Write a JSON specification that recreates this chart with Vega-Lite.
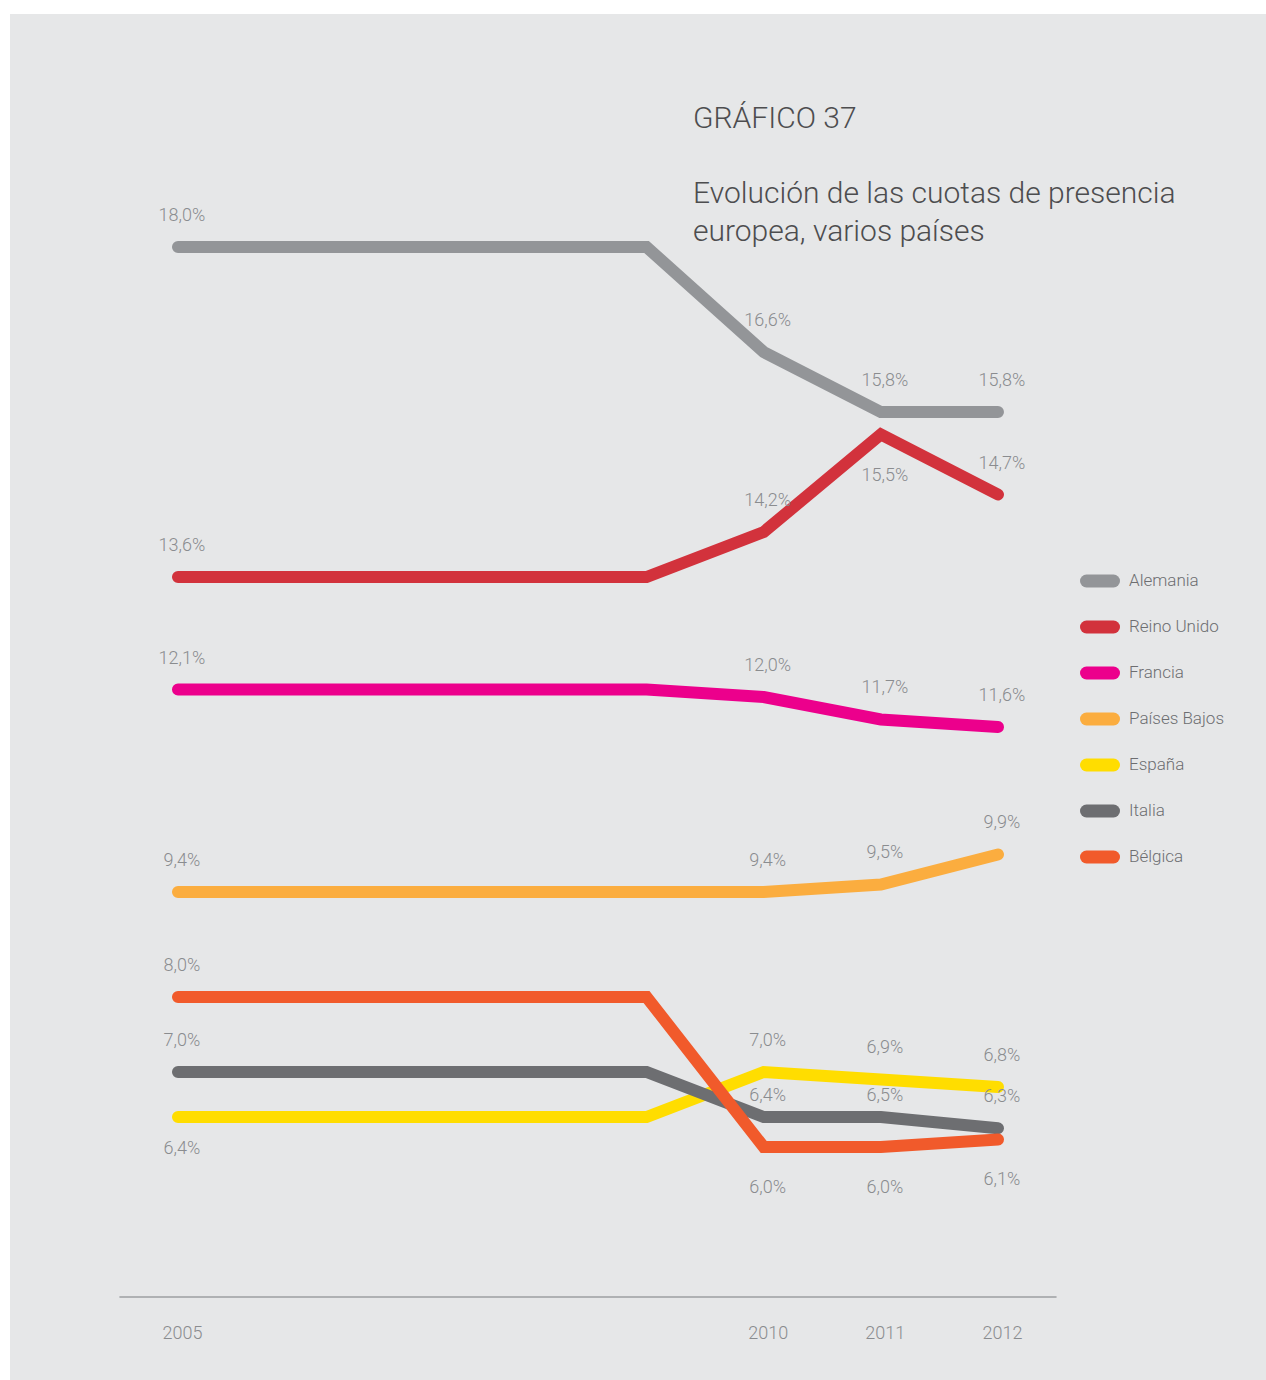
{
  "$schema": "https://vega.github.io/schema/vega-lite/v6.json",
  "autosize": "none",
  "padding": {"left": 10, "top": 14, "right": 0, "bottom": 0},
  "width": 1256,
  "height": 1366,
  "background": "#ffffff",
  "title": {
    "text": "GRÁFICO 37",
    "subtitle": ["Evolución de las cuotas de presencia", "europea, varios países"],
    "anchor": "start",
    "frame": "group",
    "orient": "top",
    "dx": 683,
    "dy": 237,
    "font": "Roboto",
    "fontSize": 30,
    "fontWeight": 300,
    "color": "#4d4d4f",
    "subtitleFont": "Roboto",
    "subtitleFontSize": 30,
    "subtitleFontWeight": 300,
    "subtitleColor": "#4d4d4f",
    "subtitleLineHeight": 38,
    "subtitlePadding": 45
  },
  "data": {
    "values": [
      {"country": "Alemania", "year": 2005, "value": 18.0, "label": "18,0%"},
      {"country": "Alemania", "year": 2006, "value": 18.0, "label": ""},
      {"country": "Alemania", "year": 2007, "value": 18.0, "label": ""},
      {"country": "Alemania", "year": 2008, "value": 18.0, "label": ""},
      {"country": "Alemania", "year": 2009, "value": 18.0, "label": ""},
      {"country": "Alemania", "year": 2010, "value": 16.6, "label": "16,6%"},
      {"country": "Alemania", "year": 2011, "value": 15.8, "label": "15,8%"},
      {"country": "Alemania", "year": 2012, "value": 15.8, "label": "15,8%"},
      {"country": "Reino Unido", "year": 2005, "value": 13.6, "label": "13,6%"},
      {"country": "Reino Unido", "year": 2006, "value": 13.6, "label": ""},
      {"country": "Reino Unido", "year": 2007, "value": 13.6, "label": ""},
      {"country": "Reino Unido", "year": 2008, "value": 13.6, "label": ""},
      {"country": "Reino Unido", "year": 2009, "value": 13.6, "label": ""},
      {"country": "Reino Unido", "year": 2010, "value": 14.2, "label": "14,2%"},
      {"country": "Reino Unido", "year": 2011, "value": 15.5, "label": "15,5%"},
      {"country": "Reino Unido", "year": 2012, "value": 14.7, "label": "14,7%"},
      {"country": "Francia", "year": 2005, "value": 12.1, "label": "12,1%"},
      {"country": "Francia", "year": 2006, "value": 12.1, "label": ""},
      {"country": "Francia", "year": 2007, "value": 12.1, "label": ""},
      {"country": "Francia", "year": 2008, "value": 12.1, "label": ""},
      {"country": "Francia", "year": 2009, "value": 12.1, "label": ""},
      {"country": "Francia", "year": 2010, "value": 12.0, "label": "12,0%"},
      {"country": "Francia", "year": 2011, "value": 11.7, "label": "11,7%"},
      {"country": "Francia", "year": 2012, "value": 11.6, "label": "11,6%"},
      {"country": "Países Bajos", "year": 2005, "value": 9.4, "label": "9,4%"},
      {"country": "Países Bajos", "year": 2006, "value": 9.4, "label": ""},
      {"country": "Países Bajos", "year": 2007, "value": 9.4, "label": ""},
      {"country": "Países Bajos", "year": 2008, "value": 9.4, "label": ""},
      {"country": "Países Bajos", "year": 2009, "value": 9.4, "label": ""},
      {"country": "Países Bajos", "year": 2010, "value": 9.4, "label": "9,4%"},
      {"country": "Países Bajos", "year": 2011, "value": 9.5, "label": "9,5%"},
      {"country": "Países Bajos", "year": 2012, "value": 9.9, "label": "9,9%"},
      {"country": "España", "year": 2005, "value": 6.4, "label": "6,4%"},
      {"country": "España", "year": 2006, "value": 6.4, "label": ""},
      {"country": "España", "year": 2007, "value": 6.4, "label": ""},
      {"country": "España", "year": 2008, "value": 6.4, "label": ""},
      {"country": "España", "year": 2009, "value": 6.4, "label": ""},
      {"country": "España", "year": 2010, "value": 7.0, "label": "7,0%"},
      {"country": "España", "year": 2011, "value": 6.9, "label": "6,9%"},
      {"country": "España", "year": 2012, "value": 6.8, "label": "6,8%"},
      {"country": "Italia", "year": 2005, "value": 7.0, "label": "7,0%"},
      {"country": "Italia", "year": 2006, "value": 7.0, "label": ""},
      {"country": "Italia", "year": 2007, "value": 7.0, "label": ""},
      {"country": "Italia", "year": 2008, "value": 7.0, "label": ""},
      {"country": "Italia", "year": 2009, "value": 7.0, "label": ""},
      {"country": "Italia", "year": 2010, "value": 6.4, "label": "6,4%"},
      {"country": "Italia", "year": 2011, "value": 6.4, "label": "6,5%"},
      {"country": "Italia", "year": 2012, "value": 6.25, "label": "6,3%"},
      {"country": "Bélgica", "year": 2005, "value": 8.0, "label": "8,0%"},
      {"country": "Bélgica", "year": 2006, "value": 8.0, "label": ""},
      {"country": "Bélgica", "year": 2007, "value": 8.0, "label": ""},
      {"country": "Bélgica", "year": 2008, "value": 8.0, "label": ""},
      {"country": "Bélgica", "year": 2009, "value": 8.0, "label": ""},
      {"country": "Bélgica", "year": 2010, "value": 6.0, "label": "6,0%"},
      {"country": "Bélgica", "year": 2011, "value": 6.0, "label": "6,0%"},
      {"country": "Bélgica", "year": 2012, "value": 6.1, "label": "6,1%"}
    ]
  },
  "layer": [
    {
      "mark": {"type": "line", "strokeWidth": 12, "strokeCap": "round", "strokeJoin": "miter"},
      "encoding": {
        "x": {
          "field": "year",
          "type": "quantitative",
          "scale": {"domain": [2003.566, 2014.288], "nice": false, "zero": false},
          "axis": {
            "values": [2005, 2010, 2011, 2012],
            "format": "d",
            "domain": false,
            "ticks": false,
            "grid": false,
            "title": null,
            "offset": -83,
            "labelPadding": 36,
            "labelBaseline": "middle",
            "labelOffset": 4,
            "labelFont": "Roboto",
            "labelFontWeight": 300,
            "labelFontSize": 18,
            "labelColor": "#8a8c8f",
            "labelOverlap": false,
            "labelFlush": false
          }
        },
        "y": {
          "field": "value",
          "type": "quantitative",
          "scale": {"domain": [2.893, 21.107], "nice": false, "zero": false},
          "axis": null
        },
        "color": {
          "field": "country",
          "type": "nominal",
          "sort": null,
          "scale": {
            "domain": ["Alemania", "Reino Unido", "Francia", "Países Bajos", "España", "Italia", "Bélgica"],
            "range": ["#939598", "#d2323c", "#ec008c", "#fbad3f", "#ffdd00", "#6d6e71", "#f15a2b"]
          },
          "legend": {
            "orient": "none",
            "legendX": 1070,
            "legendY": 547,
            "title": null,
            "padding": 0,
            "symbolType": "stroke",
            "symbolSize": 729,
            "symbolStrokeWidth": 13,
            "rowPadding": -7,
            "labelOffset": 9,
            "labelFont": "Roboto",
            "labelFontWeight": 300,
            "labelFontSize": 17,
            "labelColor": "#6d6e71",
            "encode": {"symbols": {"update": {"strokeCap": {"value": "round"}}}}
          }
        }
      }
    },
    {
      "transform": [
        {"filter": "datum.label != '' && !((datum.country == 'España' && datum.year == 2005) || (datum.country == 'Reino Unido' && datum.year == 2011) || (datum.country == 'Bélgica' && datum.year >= 2010) || (datum.country == 'Italia' && (datum.year == 2010 || datum.year == 2011)))"}
      ],
      "mark": {"type": "text", "dx": 4, "dy": -31, "font": "Roboto", "fontWeight": 300, "fontSize": 18, "color": "#8a8c8f"},
      "encoding": {
        "x": {"field": "year", "type": "quantitative"},
        "y": {"field": "value", "type": "quantitative"},
        "text": {"field": "label"}
      }
    },
    {
      "transform": [
        {"filter": "datum.label != '' && ((datum.country == 'Reino Unido' && datum.year == 2011) || (datum.country == 'Bélgica' && datum.year >= 2010))"}
      ],
      "mark": {"type": "text", "dx": 4, "dy": 41, "font": "Roboto", "fontWeight": 300, "fontSize": 18, "color": "#8a8c8f"},
      "encoding": {
        "x": {"field": "year", "type": "quantitative"},
        "y": {"field": "value", "type": "quantitative"},
        "text": {"field": "label"}
      }
    },
    {
      "transform": [
        {"filter": "datum.country == 'España' && datum.year == 2005"}
      ],
      "mark": {"type": "text", "dx": 4, "dy": 32, "font": "Roboto", "fontWeight": 300, "fontSize": 18, "color": "#8a8c8f"},
      "encoding": {
        "x": {"field": "year", "type": "quantitative"},
        "y": {"field": "value", "type": "quantitative"},
        "text": {"field": "label"}
      }
    },
    {
      "transform": [
        {"filter": "datum.country == 'Italia' && (datum.year == 2010 || datum.year == 2011)"}
      ],
      "mark": {"type": "text", "dx": 4, "dy": -21, "font": "Roboto", "fontWeight": 300, "fontSize": 18, "color": "#8a8c8f"},
      "encoding": {
        "x": {"field": "year", "type": "quantitative"},
        "y": {"field": "value", "type": "quantitative"},
        "text": {"field": "label"}
      }
    },
    {
      "data": {"values": [{}]},
      "mark": {"type": "rule", "color": "#9d9fa2", "strokeWidth": 1.5},
      "encoding": {
        "x": {"datum": 2004.5},
        "x2": {"datum": 2012.5},
        "y": {"datum": 4.0}
      }
    }
  ],
  "config": {
    "view": {"fill": "#e6e7e8", "stroke": null}
  }
}
